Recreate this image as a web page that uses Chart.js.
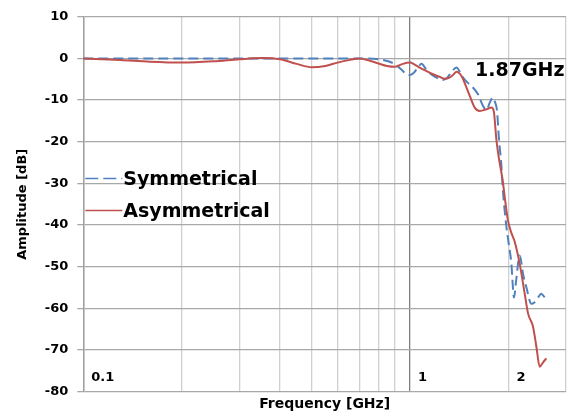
<!DOCTYPE html>
<html>
<head>
<meta charset="utf-8">
<script src="https://cdn.jsdelivr.net/npm/chart.js@4.4.1/dist/chart.umd.min.js"></script>
<style>
  html, body { margin: 0; padding: 0; background: #fff; }
  #wrap { width: 573px; height: 416px; }
</style>
</head>
<body>
<div id="wrap"><canvas id="myChart" width="573" height="416"></canvas></div>
<script>
// frequency in GHz, amplitude in dB
var symFreq = [0.1, 0.2, 0.3, 0.4, 0.5, 0.6, 0.7, 0.8, 0.85, 0.9, 0.95, 0.975, 1.0, 1.03, 1.06, 1.084, 1.12, 1.16,
    1.204, 1.26, 1.3, 1.34, 1.387, 1.42, 1.453, 1.5, 1.541, 1.614, 1.672, 1.713, 1.753, 1.794, 1.82,
    1.845, 1.871, 1.9, 1.925, 1.972, 2.0, 2.04, 2.08, 2.11, 2.165, 2.22, 2.27, 2.35, 2.406, 2.46,
    2.52, 2.56, 2.613]
var symAmp = [0, 0, 0, 0, 0, 0, 0, -0.2, -0.6, -1.4, -3.0, -3.8, -4.0, -3.3, -2.0, -1.3, -2.6, -3.8,
    -4.6, -5.2, -4.6, -3.2, -2.2, -3.2, -4.6, -5.8, -6.6, -8.6, -11.4, -12.4, -10.6, -9.4, -10.5,
    -12.5, -19.5, -25, -32, -40.5, -44, -49, -57.4, -53.5, -47.3, -52, -55, -58.9, -58.5, -57.5,
    -56.5, -57.0, -57.8]

var asymFreq = [0.1, 0.13, 0.16, 0.2, 0.25, 0.3, 0.35, 0.4, 0.45, 0.5, 0.55, 0.6, 0.65, 0.7, 0.75,
    0.8, 0.85, 0.9, 0.95, 1.0, 1.03, 1.07, 1.12, 1.176, 1.23, 1.277, 1.32, 1.36, 1.387, 1.436,
    1.48, 1.523, 1.577, 1.634, 1.713, 1.774, 1.803, 1.837, 1.87, 1.903, 1.925, 1.95, 1.972, 1.994,
    2.04, 2.09, 2.165, 2.243, 2.296, 2.378, 2.435, 2.492, 2.55, 2.613]
var asymAmp = [0, -0.4, -0.8, -1.0, -0.7, -0.2, 0.1, -0.2, -1.3, -2.1, -1.8, -1.0, -0.4, 0, -0.5,
    -1.2, -1.8, -2.0, -1.3, -1.0, -1.4, -2.2, -3.0, -3.8, -4.4, -4.9, -4.6, -3.8, -3.2, -4.2,
    -6.5, -9.0, -11.8, -12.6, -12.2, -11.8, -12.6, -19.5, -24.0, -27.4, -30.0, -33.5, -36.5, -39.0,
    -41.8, -44.0, -49.3, -56.5, -61.2, -64.4, -69.2, -74, -73, -72]

var xGridValues = [0.1, 0.2, 0.3, 0.4, 0.5, 0.6, 0.7, 0.8, 0.9, 1, 2, 3]
var xLabelValues = [0.1, 1, 2]
var xLabelTexts = ['0.1', '1', '2']
var noteText = '1.87GHz'
var noteAt = [1.58, -3]

function toPoints(xs, ys) {
    return xs.map(function(x, i) { return { x: x, y: ys[i] } })
}

var FONT = "'DejaVu Sans', Verdana, sans-serif"

// labels inside the plot, legend and the frequency note
var extras = {
    id: 'extras',
    afterDatasetsDraw: function(chart) {
        var ctx = chart.ctx
        var xs = chart.scales.x
        var ys = chart.scales.y
        var area = chart.chartArea
        ctx.save()
        ctx.fillStyle = '#000'
        ctx.font = 'bold 13px ' + FONT
        ctx.textAlign = 'left'
        ctx.textBaseline = 'middle'
        xLabelValues.forEach(function(v, i) {
            ctx.fillText(xLabelTexts[i], xs.getPixelForValue(v) + 8, area.bottom - 14)
        })

        ctx.font = 'bold 19px ' + FONT
        ctx.fillText(noteText, xs.getPixelForValue(noteAt[0]), ys.getPixelForValue(noteAt[1]))

        // legend
        ctx.textBaseline = 'alphabetic'
        var rows = [[178.5, 184.5], [210.5, 217]]
        chart.data.datasets.forEach(function(ds, i) {
            ctx.beginPath()
            ctx.strokeStyle = ds.borderColor
            ctx.lineWidth = 1.5
            ctx.setLineDash(ds.borderDash ? [13, 5] : [])
            ctx.moveTo(area.left + 2, rows[i][0])
            ctx.lineTo(area.left + 39, rows[i][0])
            ctx.stroke()
            ctx.setLineDash([])
            ctx.fillStyle = '#000'
            ctx.fillText(ds.label, area.left + 40, rows[i][1])
        })
        ctx.restore()
    }
}

var ctx = document.getElementById('myChart').getContext('2d')
var myChart = new Chart(ctx, {
    type: 'line',
    data: {
        datasets: [{
            label: 'Symmetrical',
            data: toPoints(symFreq, symAmp),
            borderColor: '#4F81BD',
            borderDash: [10, 5],
            borderWidth: 2,
            pointRadius: 0,
            fill: false,
            cubicInterpolationMode: 'monotone',
            order: 1
        }, {
            label: 'Asymmetrical',
            data: toPoints(asymFreq, asymAmp),
            borderColor: '#C0504D',
            borderWidth: 2,
            pointRadius: 0,
            fill: false,
            cubicInterpolationMode: 'monotone',
            order: 0
        }]
    },
    options: {
        responsive: false,
        animation: false,
        layout: { padding: { top: 16, right: 7, left: 0, bottom: 0 } },
        plugins: {
            legend: { display: false },
            tooltip: { enabled: false }
        },
        scales: {
            x: {
                type: 'logarithmic',
                min: 0.1,
                max: 3,
                afterBuildTicks: function(scale) {
                    scale.ticks = xGridValues.map(function(v) { return { value: v } })
                },
                afterFit: function(scale) { scale.height = 24.3 },
                ticks: { display: false },
                grid: {
                    drawTicks: false,
                    color: function(c) {
                        if (c.tick && c.tick.value === 1) return '#808080'
                        return '#cfcfcf'
                    },
                    lineWidth: 1.3
                },
                border: { display: false },
                title: {
                    display: true,
                    text: 'Frequency [GHz]',
                    color: '#000',
                    font: { family: FONT, size: 14, weight: 'bold' },
                    padding: { top: 0, bottom: 3 }
                }
            },
            y: {
                min: -80,
                max: 10,
                afterFit: function(scale) { scale.width = 83.3 },
                ticks: {
                    stepSize: 10,
                    color: '#000',
                    padding: 9,
                    font: { family: FONT, size: 13, weight: 'bold' }
                },
                grid: {
                    color: '#a8a8a8',
                    lineWidth: 1.3,
                    tickLength: 6
                },
                border: { color: '#a0a0a0', width: 1.5 },
                title: {
                    display: true,
                    text: 'Amplitude [dB]',
                    color: '#000',
                    font: { family: FONT, size: 13, weight: 'bold' },
                    padding: { top: 15, bottom: 0 }
                }
            }
        }
    },
    plugins: [extras]
});
</script>
</body>
</html>
